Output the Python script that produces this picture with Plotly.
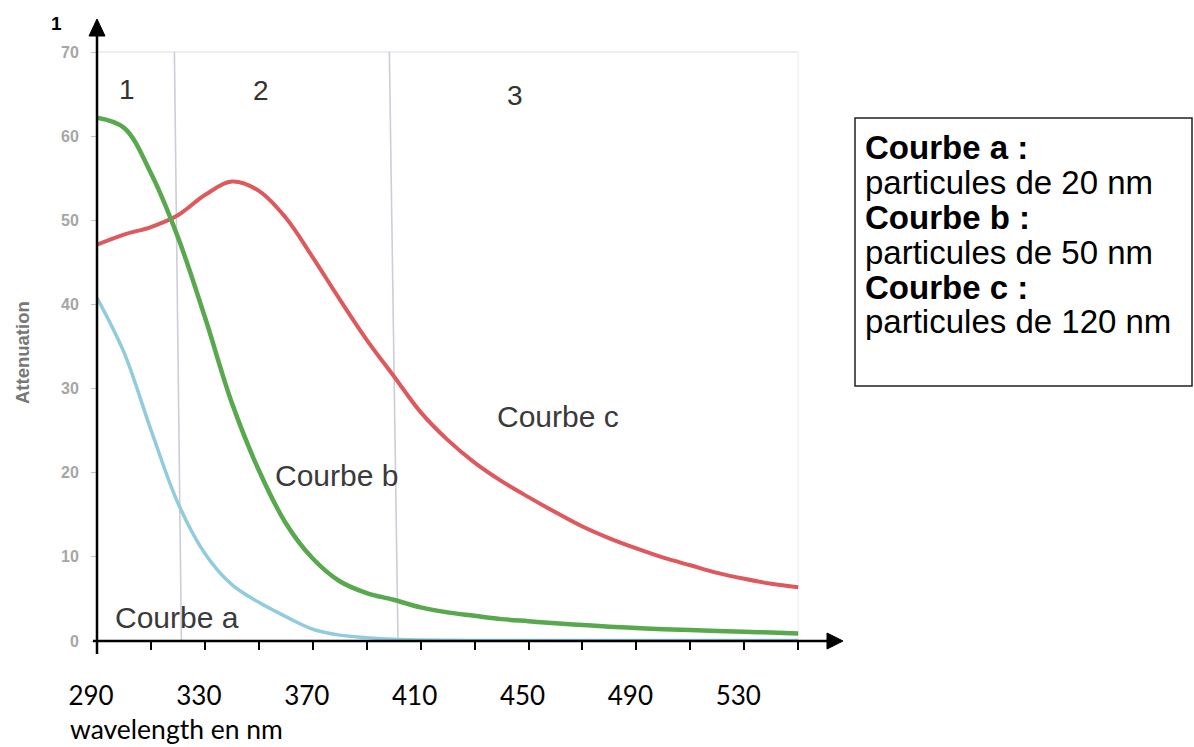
import plotly.graph_objects as go

# ---------------- data ----------------
wavelength = [290, 300, 310, 320, 330, 340, 350, 360, 370, 380, 390, 400, 410,
              420, 430, 440, 450, 460, 470, 480, 490, 500, 510, 520, 530, 540, 550]
curve_a = [40.8, 34.3, 25.1, 16.4, 10.4, 6.7, 4.6, 2.9, 1.4, 0.7, 0.4, 0.2, 0.12,
           0.08, 0.06, 0.05, 0.05, 0.05, 0.05, 0.05, 0.05, 0.05, 0.05, 0.05, 0.05, 0.05, 0.05]
curve_b = [62.2, 61.0, 55.6, 48.0, 38.5, 28.3, 20.3, 14.0, 9.8, 7.1, 5.7, 4.9, 4.0,
           3.4, 3.0, 2.6, 2.35, 2.1, 1.9, 1.7, 1.55, 1.4, 1.3, 1.2, 1.1, 1.0, 0.9]
curve_c = [47.1, 48.3, 49.2, 50.6, 53.0, 54.6, 53.5, 50.3, 45.6, 40.6, 35.8, 31.5, 27.2,
           23.9, 21.2, 19.0, 17.1, 15.3, 13.6, 12.2, 11.0, 9.9, 9.0, 8.1, 7.4, 6.8, 6.4]

x_tick_values = [290, 330, 370, 410, 450, 490, 530]
x_tick_labels = ["290", "330", "370", "410", "450", "490", "530"]
x_minor_ticks = [290, 310, 330, 350, 370, 390, 410, 430, 450, 470, 490, 510, 530, 550]
y_tick_values = [0, 10, 20, 30, 40, 50, 60, 70]
y_tick_labels = ["0", "10", "20", "30", "40", "50", "60", "70"]
region_bounds = [320, 400]
region_names = ["1", "2", "3"]
curve_names = ["Courbe a", "Courbe b", "Courbe c"]
legend_lines = ["<b>Courbe a :</b>", "particules de 20 nm",
                "<b>Courbe b :</b>", "particules de 50 nm",
                "<b>Courbe c :</b>", "particules de 120 nm"]

# ---------------- layout geometry ----------------
W, H = 1194, 747
L, B = 97, 106
plot_w = W - L
plot_h = H - B
px_per_nm = 2.697
px_per_unit = 8.414
x_range = [290, 290 + plot_w / px_per_nm]
y_range = [0, plot_h / px_per_unit]


def pxx(x):
    return (x - L) / plot_w


def pyy(y):
    return (H - B - y) / plot_h


fig = go.Figure()
fig.add_trace(go.Scatter(x=wavelength, y=curve_a, mode="lines", name=curve_names[0],
                         line=dict(color="rgb(145,203,222)", width=3.5, shape="spline")))
fig.add_trace(go.Scatter(x=wavelength, y=curve_c, mode="lines", name=curve_names[2],
                         line=dict(color="rgb(222,88,92)", width=4, shape="spline")))
fig.add_trace(go.Scatter(x=wavelength, y=curve_b, mode="lines", name=curve_names[1],
                         line=dict(color="rgb(88,168,78)", width=4.5, shape="spline")))

shapes = []
# top gridline and faint right border of the inner chart
shapes.append(dict(type="line", xref="x", yref="y", x0=wavelength[0], x1=wavelength[-1],
                   y0=y_tick_values[-1], y1=y_tick_values[-1],
                   line=dict(color="#dedede", width=1.2), layer="below"))
shapes.append(dict(type="line", xref="x", yref="y", x0=wavelength[-1], x1=wavelength[-1],
                   y0=0, y1=y_tick_values[-1],
                   line=dict(color="#efefef", width=1.2), layer="below"))
# region boundaries (slightly tilted as in the scan)
for b, tilt in zip(region_bounds, [1.3, 1.6]):
    shapes.append(dict(type="line", xref="x", yref="y", x0=b - tilt, x1=b + tilt,
                       y0=y_tick_values[-1], y1=0,
                       line=dict(color="rgb(205,205,218)", width=1.6), layer="below"))
# black axes with arrows
shapes.append(dict(type="line", xref="paper", yref="paper", x0=pxx(93), x1=pxx(830),
                   y0=pyy(641), y1=pyy(641), line=dict(color="black", width=2.5)))
shapes.append(dict(type="path", xref="paper", yref="paper",
                   path=f"M {pxx(827)},{pyy(633)} L {pxx(843)},{pyy(641)} L {pxx(827)},{pyy(649)} Z",
                   fillcolor="black", line=dict(color="black", width=1)))
shapes.append(dict(type="line", xref="paper", yref="paper", x0=pxx(97), x1=pxx(97),
                   y0=pyy(654), y1=pyy(34), line=dict(color="black", width=2.5)))
shapes.append(dict(type="path", xref="paper", yref="paper",
                   path=f"M {pxx(89)},{pyy(36)} L {pxx(97)},{pyy(19)} L {pxx(105)},{pyy(36)} Z",
                   fillcolor="black", line=dict(color="black", width=1)))
# legend box
shapes.append(dict(type="rect", xref="paper", yref="paper", x0=pxx(855), x1=pxx(1192),
                   y0=pyy(386), y1=pyy(118), line=dict(color="#222222", width=1.5),
                   fillcolor="white", layer="below"))

ann = []
label_font = dict(family="Liberation Sans, Arial, sans-serif", size=30, color="#3a3a3a")
# region numbers
for name, (x, y) in zip(region_names, [(301.1, 65.6), (350.8, 65.4), (445.0, 64.8)]):
    ann.append(dict(x=x, y=y, xref="x", yref="y", text=name, showarrow=False,
                    font=dict(family="Liberation Sans, Arial, sans-serif", size=28, color="#333333")))
# curve labels
for name, (x, y) in zip(curve_names, [(295.9, 2.85), (355.3, 19.7), (437.6, 26.7)]):
    ann.append(dict(x=x, y=y, xref="x", yref="y", text=name, showarrow=False,
                    xanchor="left", yanchor="middle", font=label_font))
# legend lines
for txt, yc in zip(legend_lines, [147, 182, 217, 252, 287, 322]):
    ann.append(dict(x=pxx(863), y=pyy(yc), xref="paper", yref="paper", text=txt,
                    showarrow=False, xanchor="left", yanchor="middle",
                    font=dict(family="Liberation Sans, Arial, sans-serif", size=33, color="black")))
# axis titles
ann.append(dict(x=pxx(22), y=pyy(353), xref="paper", yref="paper", text="<b>Attenuation</b>",
                textangle=-90, showarrow=False, xanchor="center", yanchor="middle",
                font=dict(family="Liberation Sans, Arial, sans-serif", size=18.5, color="#777777")))
ann.append(dict(x=pxx(69), y=pyy(729), xref="paper", yref="paper", text="wavelength en nm",
                showarrow=False, xanchor="left", yanchor="middle", borderpad=0,
                font=dict(family="Lato, Open Sans, sans-serif", size=26.5, color="black")))
# partial "1" at the top-left corner
ann.append(dict(x=pxx(56), y=pyy(24), xref="paper", yref="paper", text="<b>1</b>",
                showarrow=False, xanchor="center", yanchor="middle",
                font=dict(family="Liberation Sans, Arial, sans-serif", size=19, color="black")))

fig.update_layout(
    width=W, height=H,
    margin=dict(l=L, r=0, t=0, b=B, autoexpand=False),
    paper_bgcolor="white", plot_bgcolor="white",
    showlegend=False,
    shapes=shapes,
    annotations=ann,
    xaxis=dict(range=x_range, showgrid=False, zeroline=False, showline=False,
               tickmode="array", tickvals=x_tick_values, ticktext=x_tick_labels,
               ticks="outside", ticklen=8, tickwidth=2, tickcolor="black",
               ticklabelstandoff=24, ticklabelshift=-6,
               tickfont=dict(family="Lato, Open Sans, sans-serif", size=26, color="black"),
               minor=dict(tickmode="array", tickvals=x_minor_ticks, ticks="outside",
                          ticklen=8, tickwidth=2, tickcolor="black", showgrid=False)),
    yaxis=dict(range=y_range, showgrid=False, zeroline=False, showline=False,
               tickmode="array", tickvals=y_tick_values, ticktext=y_tick_labels,
               ticks="outside", ticklen=5, tickwidth=1, tickcolor="#c4c4c4",
               ticklabelstandoff=9,
               tickfont=dict(family="Liberation Sans, Arial, sans-serif", size=16,
                             color="#a6a6a6", weight="bold")),
)

fig.write_html("out.html", config={"displayModeBar": False},
               post_script="document.body.style.margin='0';document.body.style.overflow='hidden';")
